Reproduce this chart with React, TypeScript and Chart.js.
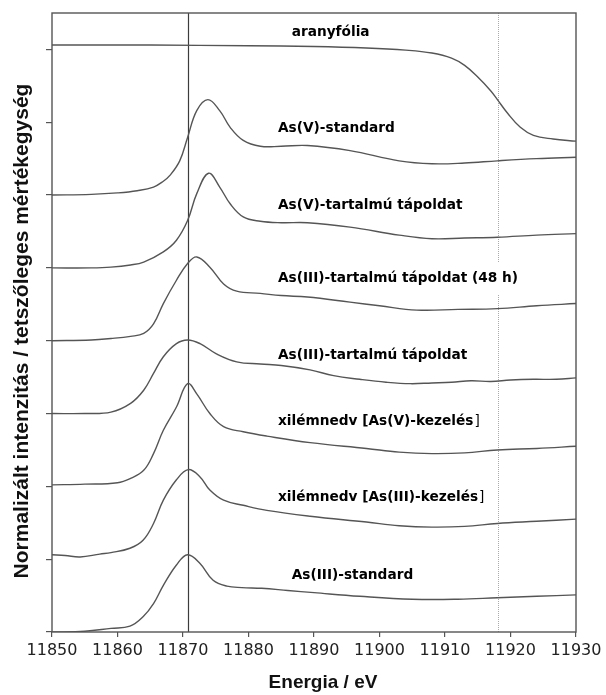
import { useEffect, useRef } from "react";
import { Chart, registerables } from "chart.js";

Chart.register(...registerables);

// ---- axes ----
const xTickValues = [11850, 11860, 11870, 11880, 11890, 11900, 11910, 11920, 11930];
const yTickValues = [0, 1, 2, 3, 4, 5, 6, 7, 8];
const X_MIN = 11850;
const X_MAX = 11930;
const Y_MIN = 0;
const Y_MAX = 8.5;

// ---- reference lines (eV) ----
const refLineSolid = 11870.8;
const refLineDotted = 11918.1;

// ---- series (energy eV / normalised intensity, offset stacked) ----
const eArany = [11850, 11865, 11880, 11890, 11898, 11904, 11908, 11911, 11913, 11915, 11917, 11918, 11919.5, 11921.5, 11923.5, 11926.5, 11930];
const vArany = [8.06, 8.06, 8.05, 8.04, 8.02, 7.99, 7.95, 7.88, 7.78, 7.62, 7.43, 7.31, 7.13, 6.93, 6.82, 6.77, 6.74];

const eAsVStd = [11850, 11856, 11860, 11863, 11865.5, 11867, 11868, 11869.5, 11870.7, 11872.1, 11873.8, 11875.6, 11877.2, 11879.2, 11881.8, 11885, 11889, 11895.5, 11903, 11908, 11913, 11918, 11924, 11930];
const vAsVStd = [6.0, 6.01, 6.03, 6.06, 6.11, 6.19, 6.27, 6.47, 6.79, 7.16, 7.31, 7.16, 6.93, 6.75, 6.67, 6.67, 6.68, 6.61, 6.47, 6.43, 6.44, 6.47, 6.5, 6.52];

const eAsVTap = [11850, 11856, 11859, 11862, 11864, 11867, 11869, 11870.7, 11872.1, 11873.9, 11875.6, 11877.2, 11879.2, 11881.8, 11885, 11889, 11895.5, 11903, 11908, 11913, 11918, 11924, 11930];
const vAsVTap = [5.0, 5.0, 5.01, 5.04, 5.08, 5.22, 5.38, 5.65, 6.02, 6.3, 6.11, 5.88, 5.7, 5.64, 5.62, 5.62, 5.56, 5.45, 5.4, 5.41, 5.42, 5.45, 5.47];

const eAsIII48 = [11850, 11856, 11859, 11862, 11864, 11865.5, 11867, 11869, 11870.7, 11872.1, 11874.1, 11876.2, 11878.2, 11881.8, 11885, 11889, 11895.5, 11900, 11905.7, 11912, 11918, 11924, 11930];
const vAsIII48 = [4.0, 4.01, 4.03, 4.06, 4.1, 4.23, 4.51, 4.83, 5.06, 5.15, 5.01, 4.78, 4.68, 4.65, 4.62, 4.6, 4.53, 4.48, 4.42, 4.43, 4.44, 4.48, 4.51];

const eAsIIITap = [11850, 11855, 11859, 11862, 11864, 11865.5, 11867, 11869, 11870.7, 11872.6, 11875.1, 11878.2, 11881.8, 11885, 11889.4, 11893, 11897, 11901, 11904.7, 11908, 11911, 11914, 11917, 11920, 11923.5, 11927, 11930];
const vAsIIITap = [3.0, 3.0, 3.02, 3.14, 3.32, 3.55, 3.78, 3.96, 4.01, 3.96, 3.82, 3.71, 3.68, 3.66, 3.6, 3.52, 3.47, 3.43, 3.41, 3.42, 3.43, 3.45, 3.44, 3.46, 3.47, 3.47, 3.49];

const eXilV = [11850, 11855, 11860, 11862, 11864, 11865.5, 11867, 11869, 11870.7, 11872.1, 11874.1, 11876.2, 11879.2, 11882.8, 11889.4, 11898, 11903, 11908, 11913, 11918, 11924, 11930];
const vXilV = [2.02, 2.03, 2.05, 2.11, 2.22, 2.45, 2.77, 3.09, 3.41, 3.27, 3.0, 2.82, 2.75, 2.69, 2.6, 2.52, 2.47, 2.45, 2.46, 2.5, 2.52, 2.55];

const eXilIII = [11850, 11852, 11854.3, 11857.3, 11859, 11861.9, 11863.9, 11865.5, 11867, 11869, 11870.8, 11872.6, 11874.1, 11876.2, 11879.2, 11882.8, 11889.4, 11898, 11903, 11908, 11913, 11918, 11924, 11930];
const vXilIII = [1.06, 1.05, 1.03, 1.07, 1.09, 1.15, 1.26, 1.49, 1.81, 2.09, 2.23, 2.13, 1.95, 1.81, 1.74, 1.67, 1.59, 1.51, 1.46, 1.44, 1.45, 1.49, 1.52, 1.55];

const eAsIIIStd = [11850, 11855, 11859, 11861.9, 11863.9, 11865.5, 11867, 11869, 11870.7, 11872.6, 11874.6, 11876.7, 11879, 11882, 11886, 11890, 11897, 11905, 11912, 11918, 11924, 11930];
const vAsIIIStd = [0.0, 0.01, 0.05, 0.08, 0.21, 0.39, 0.64, 0.92, 1.06, 0.94, 0.71, 0.63, 0.61, 0.6, 0.57, 0.54, 0.49, 0.45, 0.45, 0.47, 0.49, 0.51];

// ---- curve labels ----
const labelTexts = [
  "aranyfólia",
  "As(V)-standard",
  "As(V)-tartalmú tápoldat",
  "As(III)-tartalmú tápoldat (48 h)",
  "As(III)-tartalmú tápoldat",
  "xilémnedv [As(V)-kezelés",
  "xilémnedv [As(III)-kezelés",
  "As(III)-standard",
];
const labelSuffix = ["", "", "", "", "", "]", "]", ""];
const labelX = [11886.6, 11884.5, 11884.5, 11884.5, 11884.5, 11884.5, 11884.5, 11886.6];
const labelY = [8.23, 6.91, 5.86, 4.86, 3.8, 2.89, 1.85, 0.78];

const xTitle = "Energia / eV";
const yTitle = "Normalizált intenzitás / tetszőleges mértékegység";

const LINE_COLOR = "#555";
const LABEL_FONT = "bold 13.7px 'DejaVu Sans'";
const LABEL_FONT_NORMAL = "13.7px 'DejaVu Sans'";

const overlay = {
  id: "overlay",
  beforeDatasetsDraw(chart: any) {
    const { ctx, chartArea: a, scales } = chart;
    const x = scales.x;
    const y = scales.y;
    ctx.save();
    const xs = Math.round(x.getPixelForValue(refLineSolid)) + 0.5;
    ctx.strokeStyle = "#3c3c3c";
    ctx.lineWidth = 1.2;
    ctx.beginPath();
    ctx.moveTo(xs, a.top);
    ctx.lineTo(xs, a.bottom);
    ctx.stroke();
    const xd = Math.round(x.getPixelForValue(refLineDotted)) + 0.5;
    ctx.strokeStyle = "#aaa";
    ctx.lineWidth = 1;
    ctx.setLineDash([1, 1]);
    ctx.beginPath();
    ctx.moveTo(xd, a.top);
    ctx.lineTo(xd, a.bottom);
    ctx.stroke();
    ctx.setLineDash([]);
    ctx.fillStyle = "#fff";
    labelTexts.forEach((t, i) => {
      ctx.font = LABEL_FONT;
      const w = ctx.measureText(t + labelSuffix[i]).width;
      const px = x.getPixelForValue(labelX[i]);
      const py = y.getPixelForValue(labelY[i]);
      if (i > 0) ctx.fillRect(px - 10, py - 16, w + 20, 32);
    });
    ctx.restore();
  },
  afterDatasetsDraw(chart: any) {
    const { ctx, chartArea: a, scales } = chart;
    const x = scales.x;
    const y = scales.y;
    ctx.save();
    ctx.strokeStyle = "#555";
    ctx.lineWidth = 1.4;
    ctx.strokeRect(a.left, a.top, a.right - a.left, a.bottom - a.top);
    ctx.fillStyle = "#000";
    ctx.textBaseline = "middle";
    ctx.textAlign = "left";
    labelTexts.forEach((t, i) => {
      const px = x.getPixelForValue(labelX[i]);
      const py = y.getPixelForValue(labelY[i]);
      ctx.font = LABEL_FONT;
      ctx.fillText(t, px, py);
      if (labelSuffix[i]) {
        const w = ctx.measureText(t).width;
        ctx.font = LABEL_FONT_NORMAL;
        ctx.fillText(labelSuffix[i], px + w + 1, py);
      }
    });
    ctx.fillStyle = "#111";
    ctx.textAlign = "center";
    ctx.font = "bold 19px 'Liberation Sans'";
    ctx.fillText(xTitle, 323, 683);
    ctx.translate(22, 331);
    ctx.rotate(-Math.PI / 2);
    ctx.font = "bold 21px 'Liberation Sans'";
    ctx.fillText(yTitle, 0, 0);
    ctx.restore();
  },
};

function mk(label: string, e: number[], v: number[]) {
  return {
    label,
    data: e.map((xv, i) => ({ x: xv, y: v[i] })),
    borderColor: LINE_COLOR,
    borderWidth: 1.4,
    pointRadius: 0,
    fill: false,
    tension: 0.4,
  };
}

export default function App() {
  const ref = useRef<HTMLCanvasElement | null>(null);
  useEffect(() => {
    if (!ref.current) return;
    const chart = new Chart(ref.current, {
      type: "line",
      data: {
        datasets: [
          mk("aranyfólia", eArany, vArany),
          mk("As(V)-standard", eAsVStd, vAsVStd),
          mk("As(V)-tartalmú tápoldat", eAsVTap, vAsVTap),
          mk("As(III)-tartalmú tápoldat (48 h)", eAsIII48, vAsIII48),
          mk("As(III)-tartalmú tápoldat", eAsIIITap, vAsIIITap),
          mk("xilémnedv [As(V)-kezelés]", eXilV, vXilV),
          mk("xilémnedv [As(III)-kezelés]", eXilIII, vXilIII),
          mk("As(III)-standard", eAsIIIStd, vAsIIIStd),
        ],
      },
      options: {
        responsive: false,
        animation: false,
        layout: { padding: { left: 0, top: 13, right: 30, bottom: 0 } },
        plugins: { legend: { display: false }, tooltip: { enabled: false } },
        scales: {
          x: {
            type: "linear",
            min: X_MIN,
            max: X_MAX,
            afterBuildTicks: (s: any) => {
              s.ticks = xTickValues.map((v) => ({ value: v }));
            },
            afterFit: (s: any) => {
              s.height = 63;
            },
            ticks: {
              callback: (v: any) => String(v),
              font: { family: "'DejaVu Sans'", size: 16 },
              color: "#222",
              padding: 4,
              maxRotation: 0,
              autoSkip: false,
            },
            grid: { drawOnChartArea: false, drawTicks: true, tickLength: 5, color: "#555", lineWidth: 1.2 },
            border: { display: false },
          },
          y: {
            type: "linear",
            min: Y_MIN,
            max: Y_MAX,
            afterBuildTicks: (s: any) => {
              s.ticks = yTickValues.map((v) => ({ value: v }));
            },
            afterFit: (s: any) => {
              s.width = 52;
            },
            ticks: { display: false },
            grid: { drawOnChartArea: false, drawTicks: true, tickLength: 6, color: "#555", lineWidth: 1.2 },
            border: { display: false },
          },
        },
      },
      plugins: [overlay],
    });
    return () => chart.destroy();
  }, []);
  return (
    <div style={{ position: "fixed", left: 0, top: 0, width: 606, height: 695, background: "#fff" }}>
      <canvas ref={ref} width={606} height={695} style={{ display: "block", width: 606, height: 695 }} />
    </div>
  );
}
